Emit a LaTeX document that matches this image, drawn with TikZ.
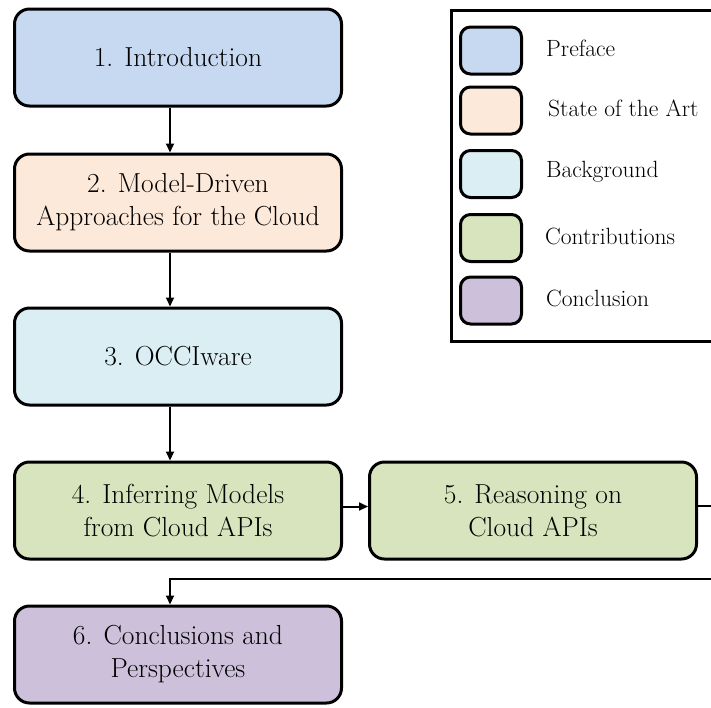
\documentclass[tikz,border=0pt]{standalone}
\usetikzlibrary{positioning,arrows.meta}
\definecolor{PrefaceBlue}{RGB}{198,217,241}
\definecolor{ArtOrange}{RGB}{253,233,217}
\definecolor{BackCyan}{RGB}{218,238,243}
\definecolor{ContribGreen}{RGB}{215,228,189}
\definecolor{ConclPurple}{RGB}{204,192,218}

\begin{document}
\begin{tikzpicture}[x=1pt,y=-1pt]
	\tikzstyle{chapter} = [rectangle, rounded corners=15pt, minimum width=327pt, minimum height=97pt, text centered, align=center, draw=black, line width=3pt, font=\fontsize{27.5}{33}\selectfont]
	\tikzstyle{swatch} = [rectangle, rounded corners=10pt, minimum width=61pt, minimum height=47pt, draw=black, line width=3pt]
	\tikzstyle{legendtext} = [anchor=west, inner sep=0pt, font=\fontsize{23.5}{28}\selectfont]
	\tikzstyle{arrow} = [line width=2pt,->,>={Triangle[length=9pt,width=8pt]}]
	
	\clip (0,0) rectangle (711,707);
	
	\node (intro) [chapter, fill=PrefaceBlue] at (178,57.5) {1. Introduction};
	\node (mde) [chapter, fill=ArtOrange, below=45pt of intro] {2. Model-Driven\\Approaches for the Cloud};
	\node (occi) [chapter, fill=BackCyan, below=54pt of mde] {3. OCCIware};
	\node (infer) [chapter, fill=ContribGreen, below=54pt of occi] {4. Inferring Models\\from Cloud APIs};
	\node (reason) [chapter, fill=ContribGreen, right=25pt of infer] {5. Reasoning on\\Cloud APIs};
	\node (concl) [chapter, fill=ConclPurple, below=44pt of infer] {6. Conclusions and\\Perspectives};
	\coordinate (spine) at (170,0);
	\coordinate (loop) at (730,579);
	
	% legend
	\node (legend) [rectangle, draw=black, line width=3pt, minimum width=300pt, minimum height=331pt] at (601.5,176) {};
	\node (swpreface) [swatch, fill=PrefaceBlue] at (491,50.5) {};
	\node (swart) [swatch, fill=ArtOrange] at (491,110.5) {};
	\node (swback) [swatch, fill=BackCyan] at (491,174) {};
	\node (swcontrib) [swatch, fill=ContribGreen] at (491,238) {};
	\node (swconcl) [swatch, fill=ConclPurple] at (491,300.5) {};
	\node (preface) [legendtext, right=23pt of swpreface, yshift=2pt] {Preface};
	\node (art) [legendtext, right=25pt of swart, yshift=2pt] {State of the Art};
	\node (back) [legendtext, right=23pt of swback, yshift=2pt] {Background};
	\node (contrib) [legendtext, right=22pt of swcontrib, yshift=2pt] {Contributions};
	\node (conclusion) [legendtext, right=23pt of swconcl, yshift=2pt] {Conclusion};
	
	\draw [arrow] (intro.south -| spine) -- (mde.north -| spine);
	\draw [arrow] (mde.south -| spine) -- (occi.north -| spine);
	\draw [arrow] (occi.south -| spine) -- (infer.north -| spine);
	\draw [arrow] ([yshift=4pt]infer.east) -- ([yshift=4pt]reason.west);
	\draw [arrow] ([yshift=5pt]reason.east) -| (loop) -| (concl.north -| spine);
\end{tikzpicture}
\end{document}
